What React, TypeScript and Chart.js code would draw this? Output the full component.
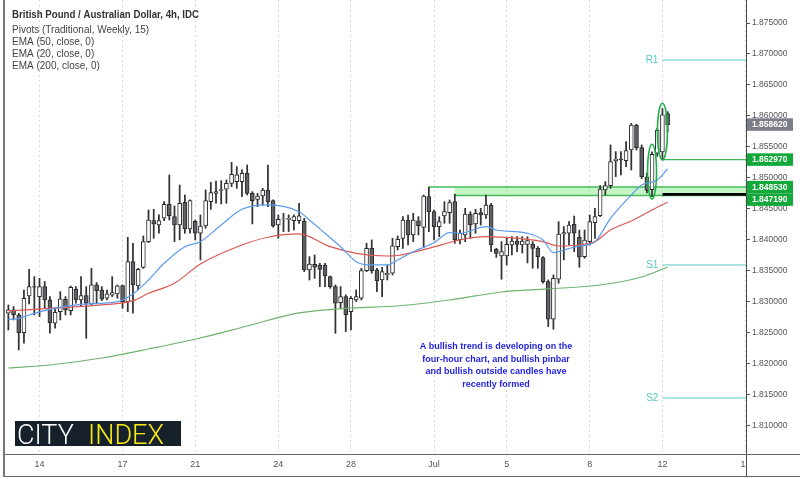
import React, { useEffect, useRef } from "react";
import { Chart, registerables } from "chart.js";

Chart.register(...registerables);

// ---------- data ----------
const opens = [
  1.82818, 1.82872, 1.82791, 1.82506, 1.83097, 1.83248, 1.83087, 1.83248, 1.83033, 1.82657,
  1.82845, 1.83044, 1.82861, 1.83205, 1.83033, 1.83103, 1.82968, 1.83275, 1.83194, 1.8306,
  1.83108, 1.8313, 1.83264, 1.83006, 1.83651, 1.83259, 1.83559, 1.83974, 1.84312, 1.84243,
  1.8435, 1.84576, 1.84377, 1.84243, 1.84608, 1.84178, 1.843, 1.84108, 1.84226, 1.84619,
  1.84753, 1.848, 1.84818, 1.84914, 1.84941, 1.84941, 1.85076, 1.84753, 1.84656, 1.8471,
  1.84807, 1.84635, 1.84243, 1.84334, 1.8433, 1.84312, 1.84312, 1.84307, 1.83517, 1.83608,
  1.83597, 1.83597, 1.83409, 1.83248, 1.8299, 1.83087, 1.82845, 1.83033, 1.8306, 1.83506,
  1.83866, 1.83517, 1.83355, 1.83436, 1.83463, 1.83893, 1.84027, 1.84323, 1.84081, 1.8431,
  1.84204, 1.84699, 1.84457, 1.84215, 1.84387, 1.84441, 1.84618, 1.84, 1.84081, 1.84419,
  1.84258, 1.84441, 1.84403, 1.84565, 1.8385, 1.83742, 1.83742, 1.8392, 1.83984, 1.8392,
  1.8393, 1.8393, 1.83866, 1.83715, 1.83328, 1.82721, 1.83366, 1.84097, 1.84108, 1.84253,
  1.84043, 1.83732, 1.83973, 1.8428, 1.84393, 1.84807, 1.84877, 1.8528, 1.8531, 1.8528,
  1.85452, 1.85855, 1.8549, 1.8502, 1.8481, 1.854, 1.8542, 1.8604,
];
const highs = [
  1.82952, 1.82925, 1.82818, 1.83194, 1.83527, 1.83409, 1.83382, 1.83329, 1.83087, 1.82898,
  1.83167, 1.83087, 1.83259, 1.83248, 1.83409, 1.83248, 1.83543, 1.83313, 1.83248, 1.83194,
  1.83409, 1.83275, 1.83275, 1.84044, 1.83947, 1.83543, 1.84065, 1.84484, 1.84495, 1.84404,
  1.84619, 1.85049, 1.84549, 1.84888, 1.84726, 1.84646, 1.84323, 1.84404, 1.84807, 1.84931,
  1.84952, 1.84957, 1.84968, 1.85253, 1.85183, 1.8513, 1.8521, 1.8478, 1.84753, 1.84834,
  1.8521, 1.84646, 1.84404, 1.8443, 1.84404, 1.84404, 1.84592, 1.8435, 1.83732, 1.83759,
  1.83624, 1.83624, 1.8342, 1.83275, 1.83248, 1.83114, 1.83087, 1.83194, 1.83543, 1.83947,
  1.84001, 1.83543, 1.83559, 1.83597, 1.84028, 1.84065, 1.84376, 1.84403, 1.8443, 1.84376,
  1.84726, 1.84853, 1.84484, 1.84376, 1.84618, 1.84645, 1.8474, 1.84161, 1.84511, 1.84457,
  1.84495, 1.84511, 1.84726, 1.84591, 1.83866, 1.83973, 1.84027, 1.84054, 1.84054, 1.84054,
  1.84054, 1.83973, 1.83893, 1.83732, 1.83355, 1.83436, 1.84296, 1.84215, 1.84296, 1.84387,
  1.84161, 1.84161, 1.84403, 1.84511, 1.84877, 1.84941, 1.85533, 1.85425, 1.85425, 1.85586,
  1.85882, 1.85866, 1.85533, 1.8508, 1.8542, 1.858, 1.8612, 1.8607,
];
const lows = [
  1.82549, 1.8271, 1.82227, 1.82334, 1.82968, 1.82791, 1.82764, 1.82898, 1.82495, 1.82576,
  1.8271, 1.82791, 1.82791, 1.82979, 1.82925, 1.82415, 1.82952, 1.82979, 1.83022, 1.83033,
  1.83087, 1.8306, 1.82898, 1.82845, 1.82818, 1.83194, 1.83543, 1.83958, 1.84027, 1.84108,
  1.84312, 1.84323, 1.83974, 1.84001, 1.84108, 1.84108, 1.84001, 1.83678, 1.84189, 1.84495,
  1.84592, 1.84581, 1.84592, 1.84861, 1.84834, 1.84699, 1.84726, 1.84259, 1.84538, 1.84565,
  1.84538, 1.84205, 1.84028, 1.84135, 1.84135, 1.84162, 1.84269, 1.8349, 1.83355, 1.83382,
  1.83248, 1.83248, 1.83221, 1.82495, 1.82898, 1.82522, 1.82549, 1.83006, 1.83033, 1.8349,
  1.83463, 1.83167, 1.83087, 1.83355, 1.83436, 1.83839, 1.83866, 1.83919, 1.83973, 1.84081,
  1.83882, 1.84134, 1.84, 1.84054, 1.84269, 1.84269, 1.83946, 1.83936, 1.83973, 1.84027,
  1.84108, 1.84242, 1.84349, 1.83812, 1.8372, 1.83366, 1.83597, 1.83758, 1.83812, 1.8379,
  1.8363, 1.83544, 1.83544, 1.83302, 1.82603, 1.8256, 1.83302, 1.83678, 1.8392, 1.83812,
  1.8356, 1.83705, 1.8392, 1.84027, 1.84377, 1.84726, 1.84834, 1.85022, 1.85049, 1.85183,
  1.85129, 1.85452, 1.8499, 1.8476, 1.847, 1.8535, 1.85297, 1.8574,
];
const closes = [
  1.82872, 1.82791, 1.82506, 1.8306, 1.83248, 1.83237, 1.83248, 1.83033, 1.82667, 1.82834,
  1.83049, 1.82872, 1.83237, 1.83033, 1.83103, 1.82979, 1.83275, 1.83184, 1.83044, 1.8313,
  1.83151, 1.83259, 1.83006, 1.83651, 1.83275, 1.83527, 1.83974, 1.84323, 1.84259, 1.84312,
  1.84576, 1.84393, 1.84243, 1.84592, 1.84178, 1.84635, 1.84108, 1.84226, 1.84635, 1.84764,
  1.8478, 1.84812, 1.84914, 1.8506, 1.85049, 1.85076, 1.84753, 1.84635, 1.8471, 1.84807,
  1.84619, 1.84226, 1.84334, 1.8434, 1.8435, 1.84377, 1.84388, 1.83517, 1.83613, 1.8356,
  1.83527, 1.8342, 1.83248, 1.82979, 1.83087, 1.82791, 1.8306, 1.83087, 1.83506, 1.83866,
  1.83506, 1.83345, 1.8349, 1.83463, 1.83904, 1.84011, 1.84323, 1.84081, 1.84323, 1.8423,
  1.8471, 1.84457, 1.84215, 1.84296, 1.84457, 1.84602, 1.84, 1.84108, 1.84419, 1.84242,
  1.8443, 1.84403, 1.84565, 1.83919, 1.83785, 1.83812, 1.8393, 1.83984, 1.8393, 1.83984,
  1.8399, 1.83866, 1.83732, 1.83328, 1.82721, 1.83382, 1.84097, 1.84119, 1.84242, 1.84108,
  1.83721, 1.84, 1.84296, 1.84377, 1.84823, 1.84877, 1.85264, 1.85302, 1.8529, 1.85441,
  1.85855, 1.8549, 1.8502, 1.848, 1.8538, 1.8577, 1.8602, 1.85862,
];

const ema20Idx = [0, 2, 4, 8, 14, 21, 24, 27, 30, 34, 37, 41, 45, 50, 56, 58, 61, 64, 67, 70, 73, 75, 78, 82, 85, 87, 92, 94, 100, 103, 105, 107, 110, 113, 116, 120, 122, 125, 127];
const ema20Val = [1.82721, 1.82737, 1.8279, 1.82882, 1.82963, 1.83005, 1.83129, 1.83355, 1.83624, 1.83892, 1.83973, 1.84242, 1.84495, 1.84565, 1.84456, 1.84323, 1.84108, 1.83892, 1.8365, 1.83597, 1.83597, 1.83677, 1.83811, 1.83956, 1.84118, 1.84108, 1.84215, 1.84161, 1.84108, 1.84, 1.83795, 1.83839, 1.83903, 1.83973, 1.8435, 1.84726, 1.84887, 1.84968, 1.85145];
const ema50Idx = [0, 8, 18, 24, 27, 32, 37, 45, 50, 56, 62, 67, 73, 75, 81, 87, 92, 100, 103, 106, 110, 113, 116, 120, 124, 127];
const ema50Val = [1.82855, 1.82898, 1.82952, 1.83021, 1.8314, 1.83302, 1.83613, 1.83919, 1.84044, 1.84097, 1.83892, 1.83785, 1.83742, 1.8375, 1.83866, 1.84, 1.84053, 1.84011, 1.83973, 1.83903, 1.83919, 1.83973, 1.84161, 1.84306, 1.84484, 1.84608];
const ema200Idx = [0, 8, 18, 27, 37, 46, 56, 66, 75, 85, 95, 104, 114, 122, 127];
const ema200Val = [1.81935, 1.81984, 1.82097, 1.82242, 1.82419, 1.82613, 1.82823, 1.82903, 1.82935, 1.83032, 1.83161, 1.8321, 1.83274, 1.83403, 1.83565];

const xTickIndex = [6, 22, 36, 52, 66, 82, 96, 112, 126, 142];
const xTickLabels = ["14", "17", "21", "24", "28", "Jul", "5", "8", "12", "15"];
const yTickValues = [1.81, 1.815, 1.82, 1.825, 1.83, 1.835, 1.84, 1.845, 1.85, 1.855, 1.86, 1.865, 1.87, 1.875];

const pivotStart = 126;
const pivotNames = ["R1", "P", "S1", "S2"];
const pivotValues = [1.86903, 1.84735, 1.83597, 1.81452];
const pivotLabelShown = [true, false, true, true];

const levelStart = 126;
const levelValue = 1.85297;
const zoneLineStart = 81;
const zoneBoxStart = 86;
const zoneTop = 1.84853;
const zoneBottom = 1.84719;

const highlightIdx = [124, 126];
const highlightTop = [1.85544, 1.86205];
const highlightBottom = [1.84661, 1.8529];

const priceLabelValues = [1.85862, 1.85297, 1.84853, 1.84719];
const priceLabelKinds = ["last", "level", "level", "level"];

const legendLines = [
  "British Pound / Australian Dollar, 4h, IDC",
  "Pivots (Traditional, Weekly, 15)",
  "EMA (50, close, 0)",
  "EMA (20, close, 0)",
  "EMA (200, close, 0)",
];
const noteLines = [
  "A bullish trend is developing on the",
  "four-hour chart, and bullish pinbar",
  "and bullish outside candles have",
  "recently formed",
];

const X_MIN = -0.65;
const X_MAX = 142.1;
const Y_MIN = 1.80548;
const Y_MAX = 1.87871;

const UP_FILL = "#ffffff";
const DOWN_FILL = "#5f6166";
const CANDLE_BORDER = "#2a2a2a";
const WICK = "#333333";
const TEAL = "#59c9c4";

export default function App() {
  const ref = useRef<HTMLCanvasElement>(null);

  useEffect(() => {
    document.body.style.margin = "0";
    const canvas = ref.current;
    if (!canvas) return;
    Chart.defaults.font.family = "'Liberation Sans', Arial, sans-serif";

    const idx = opens.map((_, i) => i);
    const bodies = idx.map((i) => ({ x: i, y: [Math.min(opens[i], closes[i]), Math.max(opens[i], closes[i])] }));
    const wicks = idx.map((i) => ({ x: i, y: [lows[i], highs[i]] }));
    const bodyColors = idx.map((i) => (closes[i] >= opens[i] ? UP_FILL : DOWN_FILL));
    const pts = (xs: number[], ys: number[]) => xs.map((x, k) => ({ x, y: ys[k] }));
    const hline = (start: number, v: number) => [
      { x: start, y: v },
      { x: X_MAX, y: v },
    ];

    const lineBase = { type: "line" as const, pointRadius: 0, fill: false, borderWidth: 1.2 };

    const datasets: any[] = [
      ...pivotValues.map((v, k) => ({
        ...lineBase,
        data: hline(pivotStart, v),
        borderColor: pivotNames[k] === "P" ? "#000000" : TEAL,
        borderWidth: pivotNames[k] === "P" ? 2.6 : 1,
        order: 0,
      })),
      { ...lineBase, data: hline(levelStart, levelValue), borderColor: "#3fb45a", borderWidth: 1.2, order: 0 },
      { ...lineBase, data: pts(ema20Idx, ema20Val), borderColor: "#5a9bf0", cubicInterpolationMode: "monotone", order: 1 },
      { ...lineBase, data: pts(ema50Idx, ema50Val), borderColor: "#dc5753", cubicInterpolationMode: "monotone", order: 1 },
      { ...lineBase, data: pts(ema200Idx, ema200Val), borderColor: "#6fb26f", cubicInterpolationMode: "monotone", order: 1 },
      {
        type: "bar",
        data: bodies,
        backgroundColor: bodyColors,
        borderColor: CANDLE_BORDER,
        borderWidth: 1,
        borderSkipped: false,
        barThickness: 4,
        grouped: false,
        order: 2,
      },
      {
        type: "bar",
        data: wicks,
        backgroundColor: WICK,
        borderWidth: 0,
        barThickness: 1.1,
        grouped: false,
        order: 3,
      },
    ];

    const overlay = {
      id: "overlay",
      beforeDatasetsDraw(chart: any) {
        const { ctx, chartArea: ca } = chart;
        const x = chart.scales.x;
        const y = chart.scales.y;
        ctx.save();
        ctx.beginPath();
        ctx.rect(ca.left, ca.top, ca.right - ca.left, ca.bottom - ca.top);
        ctx.clip();
        // support / resistance zone
        const zxL = x.getPixelForValue(zoneBoxStart);
        const yT = y.getPixelForValue(zoneTop);
        const yB = y.getPixelForValue(zoneBottom);
        ctx.fillStyle = "rgba(150, 236, 148, 0.55)";
        ctx.fillRect(zxL, yT, ca.right - zxL, yB - yT);
        ctx.strokeStyle = "#45bd5c";
        ctx.lineWidth = 1.5;
        ctx.beginPath();
        ctx.moveTo(x.getPixelForValue(zoneLineStart), yT);
        ctx.lineTo(ca.right, yT);
        ctx.moveTo(zxL, yB);
        ctx.lineTo(ca.right, yB);
        ctx.stroke();
        ctx.restore();
      },
      afterDatasetsDraw(chart: any) {
        const { ctx, chartArea: ca } = chart;
        const x = chart.scales.x;
        const y = chart.scales.y;
        ctx.save();
        ctx.beginPath();
        ctx.rect(ca.left, ca.top, ca.right - ca.left, ca.bottom - ca.top);
        ctx.clip();
        // highlight ellipses
        ctx.strokeStyle = "#1fae4b";
        ctx.lineWidth = 1.6;
        highlightIdx.forEach((hi, k) => {
          const cx = x.getPixelForValue(hi);
          const t = y.getPixelForValue(highlightTop[k]);
          const b = y.getPixelForValue(highlightBottom[k]);
          ctx.beginPath();
          ctx.ellipse(cx, (t + b) / 2, k === 0 ? 4.5 : 5, (b - t) / 2, 0, 0, Math.PI * 2);
          ctx.stroke();
        });
        ctx.restore();

        // pivot labels
        ctx.save();
        ctx.fillStyle = TEAL;
        ctx.font = "10px 'Liberation Sans', Arial, sans-serif";
        ctx.textAlign = "right";
        ctx.textBaseline = "middle";
        pivotNames.forEach((n, k) => {
          if (!pivotLabelShown[k]) return;
          ctx.fillText(n, x.getPixelForValue(pivotStart) - 4, y.getPixelForValue(pivotValues[k]));
        });
        ctx.restore();
      },
      afterDraw(chart: any) {
        const { ctx, chartArea: ca } = chart;
        const y = chart.scales.y;
        const W = chart.width;
        const H = chart.height;
        ctx.save();
        // clear region right of x-axis labels (clip last label)
        ctx.fillStyle = "#ffffff";
        ctx.fillRect(ca.right + 0.5, ca.bottom + 0.5, W - ca.right, H - ca.bottom);

        // frame lines
        const seg = (x1: number, y1: number, x2: number, y2: number) => {
          ctx.beginPath();
          ctx.moveTo(x1, y1);
          ctx.lineTo(x2, y2);
          ctx.stroke();
        };
        ctx.strokeStyle = "#4a4a4a";
        ctx.lineWidth = 1;
        seg(Math.round(ca.right) + 0.5, 0, Math.round(ca.right) + 0.5, 477);
        ctx.strokeStyle = "#666666";
        seg(4, Math.round(ca.bottom) + 0.5, W, Math.round(ca.bottom) + 0.5);
        seg(4, 476.5, W, 476.5);
        ctx.strokeStyle = "#777777";
        ctx.lineWidth = 2;
        seg(4, 0, 4, 477);

        // price labels on the axis
        const h = 12.5;
        const boxes = priceLabelValues
          .map((v, k) => ({ v, y: y.getPixelForValue(v), kind: priceLabelKinds[k] }))
          .sort((a, b) => a.y - b.y);
        for (let k = 1; k < boxes.length; k++) {
          if (boxes[k].y - boxes[k - 1].y < h) boxes[k].y = boxes[k - 1].y + h;
        }
        ctx.font = "bold 8.5px 'Liberation Sans', Arial, sans-serif";
        ctx.textBaseline = "middle";
        ctx.textAlign = "left";
        boxes.forEach((b) => {
          ctx.fillStyle = b.kind === "last" ? "#7b7e87" : "#12a83a";
          ctx.fillRect(ca.right + 1, b.y - h / 2, 46, h);
          ctx.fillStyle = "#ffffff";
          ctx.fillText(b.v.toFixed(6), ca.right + 6, b.y + 0.5);
        });

        // legend
        ctx.textAlign = "left";
        ctx.textBaseline = "middle";
        ctx.fillStyle = "#333333";
        ctx.font = "bold 10px 'Liberation Sans', Arial, sans-serif";
        ctx.fillText(legendLines[0], 12, 15, 187);
        ctx.font = "10px 'Liberation Sans', Arial, sans-serif";
        ctx.fillStyle = "#444444";
        legendLines.slice(1).forEach((t, k) => ctx.fillText(t, 12, 30 + k * 12));

        // note
        ctx.fillStyle = "#2323e0";
        ctx.font = "bold 9px 'Liberation Sans', Arial, sans-serif";
        ctx.textAlign = "center";
        noteLines.forEach((t, k) => ctx.fillText(t, 496, 347 + k * 12.5));

        // logo
        ctx.fillStyle = "#17212b";
        ctx.fillRect(15, 421, 166, 25);
        ctx.textAlign = "left";
        ctx.textBaseline = "alphabetic";
        ctx.font = "300 27px Roboto, 'Liberation Sans', sans-serif";
        ctx.fillStyle = "#ffffff";
        ctx.fillText("CITY", 17, 443.5, 63);
        ctx.fillStyle = "#f5ea14";
        ctx.fillText("INDEX", 88, 443.5, 90);
        ctx.restore();
      },
    };

    const chart = new Chart(canvas, {
      type: "bar",
      data: { datasets },
      plugins: [overlay],
      options: {
        animation: false,
        responsive: false,
        maintainAspectRatio: false,
        layout: { padding: { left: 5, right: 0, top: 0, bottom: 3 } },
        plugins: { legend: { display: false }, tooltip: { enabled: false } },
        scales: {
          x: {
            type: "linear",
            min: X_MIN,
            max: X_MAX,
            offset: false,
            bounds: "data",
            afterBuildTicks: (s: any) => {
              s.ticks = xTickIndex.map((v) => ({ value: v }));
            },
            afterFit: (s: any) => {
              s.height = 22;
              s.paddingLeft = 0;
              s.paddingRight = 0;
            },
            ticks: {
              autoSkip: false,
              maxRotation: 0,
              padding: 5,
              color: "#555555",
              font: { size: 9 },
              callback: (v: any) => {
                const k = xTickIndex.indexOf(Number(v));
                return k >= 0 ? xTickLabels[k] : "";
              },
            },
            grid: { offset: false, color: "#d5d8dd", lineWidth: 1, drawTicks: false },
            border: { display: false, dash: [2, 3] },
          },
          y: {
            type: "linear",
            position: "right",
            min: Y_MIN,
            max: Y_MAX,
            bounds: "data",
            afterBuildTicks: (s: any) => {
              s.ticks = yTickValues.map((v) => ({ value: v }));
            },
            afterFit: (s: any) => {
              s.width = 54;
              s.paddingTop = 0;
              s.paddingBottom = 0;
            },
            ticks: {
              padding: 2,
              color: "#555555",
              font: { size: 8.5 },
              callback: (v: any) => Number(v).toFixed(6),
            },
            grid: { drawOnChartArea: false, drawTicks: true, tickLength: 4, color: "#555555" },
            border: { display: false },
          },
        },
      },
    } as any);

    return () => chart.destroy();
  }, []);

  return (
    <div style={{ width: 800, height: 479 }}>
      <canvas ref={ref} width={800} height={479} style={{ display: "block", width: 800, height: 479 }} />
    </div>
  );
}
